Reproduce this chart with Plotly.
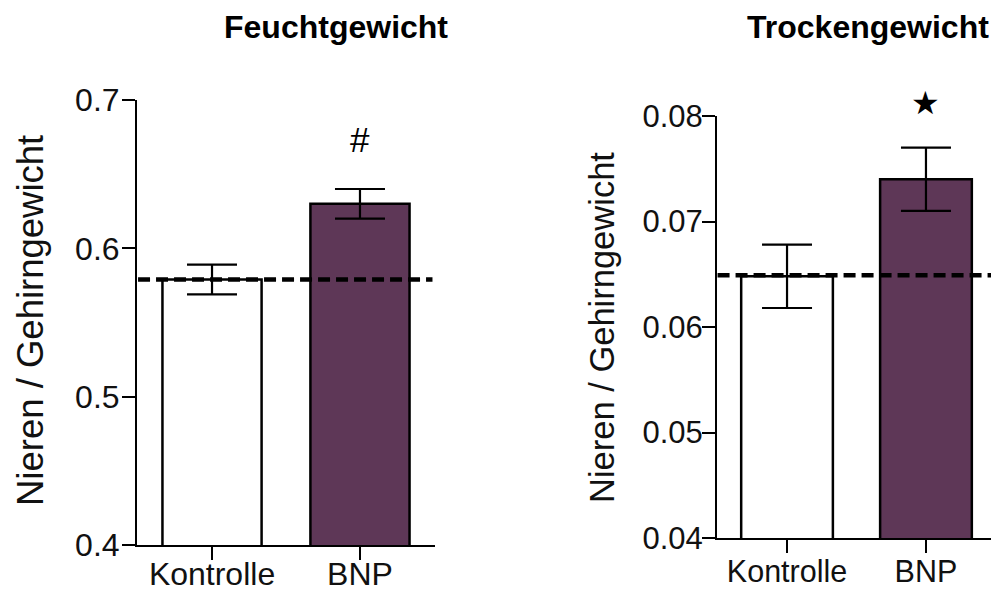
import plotly.graph_objects as go

# ---- data ----
categories = ["Kontrolle", "BNP"]
wet_means = [0.579, 0.630]
wet_errors = [0.010, 0.010]
wet_reference = 0.579
dry_means = [0.0648, 0.0740]
dry_errors = [0.0030, 0.0030]
dry_reference = 0.0649
panel_titles = ["Feuchtgewicht", "Trockengewicht"]
y_title = "Nieren / Gehirngewicht"
wet_ticks = [0.4, 0.5, 0.6, 0.7]
dry_ticks = [0.04, 0.05, 0.06, 0.07, 0.08]
wet_range = [0.4, 0.7]
dry_range = [0.04, 0.08]
wet_marker = "#"          # significance marker above BNP (wet)
wet_marker_y = 0.6735
dry_marker = "★"          # significance marker above BNP (dry)
dry_marker_y = 0.0812

W, H = 991, 592
FONT = "Liberation Sans, Arial, sans-serif"
PURPLE = "#5e3757"
bar_colors = ["white", PURPLE]
xs = list(range(len(categories)))

def px_x(p):
    return p / W

def px_y(p):
    return 1 - p / H

fig = go.Figure()

# Wet weight panel
fig.add_trace(go.Bar(
    x=xs, y=wet_means, width=0.67,
    marker=dict(color=bar_colors, line=dict(color="black", width=2.5)),
    error_y=dict(type="data", array=wet_errors, color="black", thickness=2.2, width=25),
    xaxis="x", yaxis="y", showlegend=False))
fig.add_trace(go.Scatter(
    x=[-0.5, 1.49], y=[wet_reference, wet_reference], mode="lines",
    line=dict(color="black", width=4.5, dash="12px,6px"),
    xaxis="x", yaxis="y", showlegend=False))

# Dry weight panel
fig.add_trace(go.Bar(
    x=xs, y=dry_means, width=0.66,
    marker=dict(color=bar_colors, line=dict(color="black", width=2.5)),
    error_y=dict(type="data", array=dry_errors, color="black", thickness=2.2, width=25),
    xaxis="x2", yaxis="y2", showlegend=False))
fig.add_trace(go.Scatter(
    x=[-0.5, 1.5], y=[dry_reference, dry_reference], mode="lines",
    line=dict(color="black", width=4.5, dash="12px,6px"),
    xaxis="x2", yaxis="y2", showlegend=False))

axis_common = dict(showline=True, linecolor="black", linewidth=2, ticks="outside",
                   ticklen=13, tickwidth=2, tickcolor="black", showgrid=False,
                   zeroline=False, automargin=False)

fig.update_layout(
    template="none",
    width=W, height=H,
    margin=dict(l=0, r=0, t=0, b=0, pad=0),
    paper_bgcolor="white", plot_bgcolor="white",
    font=dict(family=FONT, color="#111111"),
    xaxis=dict(domain=[px_x(137), px_x(435)], range=[-0.507, 1.507],
               tickvals=xs, ticktext=categories, tickfont=dict(size=32),
               ticklabelstandoff=-13, anchor="y", **axis_common),
    yaxis=dict(domain=[px_y(545), px_y(100)], range=wet_range,
               tickvals=wet_ticks, ticktext=[f"{v:.1f}" for v in wet_ticks],
               tickfont=dict(size=32), ticklabelstandoff=-4, anchor="x", **axis_common),
    xaxis2=dict(domain=[px_x(717), 1.0], range=[-0.504, 1.468],
                tickvals=xs, ticktext=categories, tickfont=dict(size=30.5),
                ticklabelstandoff=-8, anchor="y2", **axis_common),
    yaxis2=dict(domain=[px_y(538), px_y(116)], range=dry_range,
                tickvals=dry_ticks, ticktext=[f"{v:.2f}" for v in dry_ticks],
                tickfont=dict(size=31), ticklabelstandoff=-7, anchor="x2", **axis_common),
)

dry_marker_frac = (dry_marker_y - dry_range[0]) / (dry_range[1] - dry_range[0])

annotations = [
    dict(text=f"<b>{panel_titles[0]}</b>", x=px_x(336), y=px_y(27), xref="paper", yref="paper",
         showarrow=False, font=dict(size=32, color="black"), xanchor="center", yanchor="middle"),
    dict(text=f"<b>{panel_titles[1]}</b>", x=px_x(868), y=px_y(27), xref="paper", yref="paper",
         showarrow=False, font=dict(size=32, color="black"), xanchor="center", yanchor="middle"),
    dict(text=y_title, x=px_x(30), y=px_y(321), xref="paper", yref="paper", textangle=-90,
         showarrow=False, font=dict(size=36.5), xanchor="center", yanchor="middle"),
    dict(text=y_title, x=px_x(602), y=px_y(328), xref="paper", yref="paper", textangle=-90,
         showarrow=False, font=dict(size=34.5), xanchor="center", yanchor="middle"),
    dict(text=wet_marker, x=1, y=wet_marker_y, xref="x", yref="y", showarrow=False,
         font=dict(size=35, color="black"), xanchor="center", yanchor="middle"),
    dict(text=dry_marker, x=1, y=dry_marker_frac, xref="x2", yref="y2 domain", showarrow=False,
         font=dict(size=32, color="black", family="DejaVu Sans"), xanchor="center", yanchor="middle"),
]
fig.update_layout(annotations=annotations)

fig.write_html("out.html")
